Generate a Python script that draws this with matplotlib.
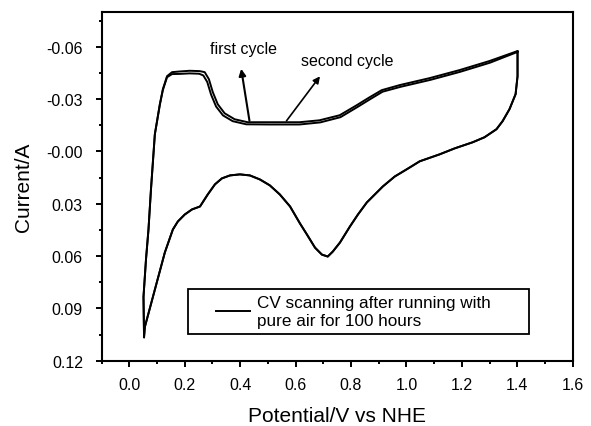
import matplotlib
matplotlib.use("Agg")
import matplotlib.pyplot as plt
import numpy as np
from matplotlib.patches import Rectangle
from matplotlib.ticker import FixedLocator, MultipleLocator

plt.rcParams['font.family'] = ['Liberation Sans', 'DejaVu Sans']

# anodic (upper) branch, first cycle
up1_x = [0.053, 0.051, 0.060, 0.069, 0.078, 0.092, 0.110, 0.121, 0.136, 0.154, 0.182, 0.218,
         0.254, 0.272, 0.287, 0.301, 0.319, 0.344, 0.380, 0.427, 0.506, 0.614, 0.686, 0.759,
         0.820, 0.867, 0.911, 0.976, 1.084, 1.192, 1.300, 1.401]
up1_y = [0.1065, 0.0834, 0.0620, 0.0448, 0.0218, -0.0098, -0.0270, -0.0357, -0.0431, -0.0454,
         -0.0458, -0.0462, -0.0460, -0.0454, -0.0414, -0.0340, -0.0270, -0.0218, -0.0184,
         -0.0167, -0.0167, -0.0167, -0.0178, -0.0207, -0.0264, -0.0310, -0.0351, -0.0380,
         -0.0420, -0.0466, -0.0518, -0.0575]

# anodic (upper) branch, second cycle
up2_x = [0.053, 0.051, 0.060, 0.069, 0.078, 0.092, 0.110, 0.121, 0.136, 0.154, 0.182, 0.218,
         0.252, 0.267, 0.281, 0.295, 0.313, 0.338, 0.373, 0.422, 0.506, 0.614, 0.689, 0.762,
         0.823, 0.870, 0.914, 0.979, 1.087, 1.194, 1.301, 1.401]
up2_y = [0.1065, 0.0834, 0.0620, 0.0448, 0.0218, -0.0098, -0.0267, -0.0352, -0.0425, -0.0443,
         -0.0444, -0.0447, -0.0445, -0.0435, -0.0398, -0.0325, -0.0257, -0.0206, -0.0173,
         -0.0155, -0.0154, -0.0154, -0.0166, -0.0196, -0.0254, -0.0300, -0.0342, -0.0370,
         -0.0410, -0.0456, -0.0508, -0.0570]

# cathodic (lower) branch
low_x = [1.401, 1.401, 1.394, 1.372, 1.347, 1.325, 1.282, 1.239, 1.174, 1.120, 1.048, 1.001,
         0.958, 0.915, 0.886, 0.857, 0.825, 0.796, 0.760, 0.734, 0.716, 0.695, 0.670, 0.641,
         0.616, 0.580, 0.543, 0.507, 0.471, 0.435, 0.399, 0.363, 0.334, 0.309, 0.283, 0.255,
         0.226, 0.200, 0.175, 0.157, 0.128, 0.092, 0.056, 0.053]
low_y = [-0.0575, -0.0431, -0.0328, -0.0242, -0.0173, -0.0127, -0.0081, -0.0052, -0.0017,
         0.0017, 0.0057, 0.0103, 0.0144, 0.0201, 0.0247, 0.0293, 0.0362, 0.0431, 0.0523,
         0.0575, 0.0603, 0.0592, 0.0552, 0.0477, 0.0414, 0.0316, 0.0247, 0.0195, 0.0161,
         0.0138, 0.0132, 0.0138, 0.0155, 0.0189, 0.0247, 0.0316, 0.0333, 0.0362, 0.0402,
         0.0448, 0.0580, 0.0793, 0.1006, 0.1065]

xticks = [0.0, 0.2, 0.4, 0.6, 0.8, 1.0, 1.2, 1.4, 1.6]
xlabels = ['0.0', '0.2', '0.4', '0.6', '0.8', '1.0', '1.2', '1.4', '1.6']
yticks = [-0.06, -0.03, 0.0, 0.03, 0.06, 0.09, 0.12]
ylabels = ['-0.06', '-0.03', '-0.00', '0.03', '0.06', '0.09', '0.12']

fig = plt.figure(figsize=(5.91, 4.27), dpi=100)
ax = fig.add_axes([0.172, 0.153, 0.797, 0.817])

ax.plot(up1_x + low_x, up1_y + low_y, color='black', lw=1.4,
        label='CV scanning after running with\npure air for 100 hours')
ax.plot(up2_x + low_x, up2_y + low_y, color='black', lw=1.4)

ax.set_xlim(-0.1, 1.6)
ax.set_ylim(0.12, -0.08)

ax.xaxis.set_major_locator(FixedLocator(xticks))
ax.xaxis.set_minor_locator(MultipleLocator(0.1))
ax.set_xticklabels(xlabels)
ax.yaxis.set_major_locator(FixedLocator(yticks))
ax.yaxis.set_minor_locator(MultipleLocator(0.015))
ax.set_yticklabels(ylabels)

ax.tick_params(which='both', direction='out', width=1.4, labelsize=11.5)
ax.tick_params(which='major', length=4.5)
ax.tick_params(axis='y', which='major', pad=9)
ax.tick_params(axis='x', which='major', pad=7)
ax.tick_params(which='minor', length=2.5)
for s in ax.spines.values():
    s.set_linewidth(1.5)

ax.set_xlabel('Potential/V vs NHE', fontsize=15, labelpad=10)
ax.set_ylabel('Current/A', fontsize=15, labelpad=10)

ax.annotate('', xy=(0.402, -0.0489), xytext=(0.435, -0.0160),
            arrowprops=dict(arrowstyle='-|>', lw=1.5, color='black', mutation_scale=10))
ax.text(0.413, -0.0587, 'first cycle', ha='center', va='center', fontsize=11.5)
ax.annotate('', xy=(0.694, -0.0443), xytext=(0.561, -0.0162),
            arrowprops=dict(arrowstyle='-|>', lw=1.2, color='black', mutation_scale=10))
ax.text(0.788, -0.0523, 'second cycle', ha='center', va='center', fontsize=11.5)

# legend box drawn as a separate frame, wider than the text like the original
ax.add_patch(Rectangle((0.183, 0.077), 0.724, 0.129, transform=ax.transAxes,
                       fill=False, edgecolor='black', lw=1.3, zorder=5))
leg = ax.legend(loc='center left', bbox_to_anchor=(0.243, 0.1415), fontsize=12.3,
                frameon=False, handlelength=2.0, borderpad=0.0, borderaxespad=0.0,
                handletextpad=0.4, labelspacing=0.2)

fig.savefig('out.png', dpi=100)
